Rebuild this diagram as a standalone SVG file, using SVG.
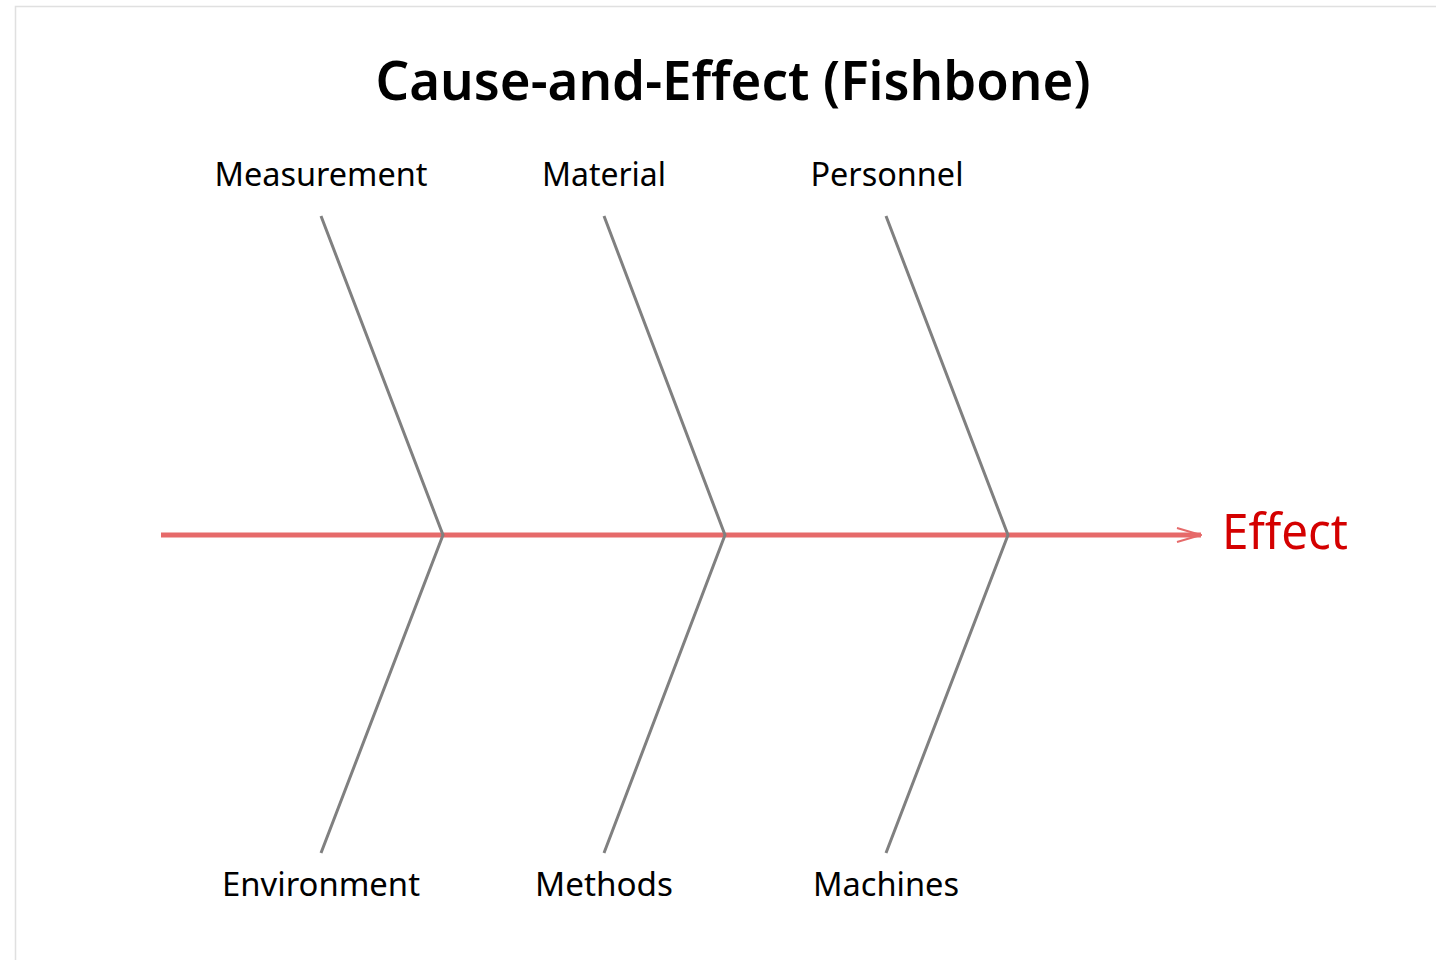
<svg xmlns="http://www.w3.org/2000/svg" width="1436" height="960" viewBox="0 0 1436 960">
  <style>
    .bone { stroke: #808080; stroke-width: 3; fill: none; }
    .spine { stroke: #e66a6a; stroke-width: 5; fill: none; }
    .label { font-family: "Noto Sans", "Open Sans", sans-serif; font-size: 33px; fill: #000; text-anchor: middle; }
    .title { font-family: "Noto Sans", "Open Sans", sans-serif; font-size: 54px; font-weight: 600; fill: #000; text-anchor: middle; }
    .effect { font-family: "Noto Sans", "Open Sans", sans-serif; font-size: 50px; fill: #d40000; }
  </style>
  <defs>
    <marker id="arrow" markerWidth="26" markerHeight="16" refX="25" refY="8" orient="auto" markerUnits="userSpaceOnUse" viewBox="0 0 26 16">
      <path d="M1,1 L25,8 L1,15" fill="none" stroke="#e66a6a" stroke-width="2"/>
    </marker>
  </defs>
  <rect x="0" y="0" width="1436" height="960" fill="#ffffff"/>
  <rect x="15.5" y="6.5" width="1440" height="970" fill="#ffffff" stroke="#e0e0e0" stroke-width="1.5"/>
  <text class="title" x="733" y="100" textLength="715" lengthAdjust="spacingAndGlyphs">Cause-and-Effect (Fishbone)</text>
  <g id="connectors">
    <line class="spine" x1="161" y1="535" x2="1201" y2="535" marker-end="url(#arrow)"/>
    <polyline class="bone" points="321,216 443,535 321,853"/>
    <polyline class="bone" points="604,216 725,535 604,853"/>
    <polyline class="bone" points="886,216 1008,535 886,853"/>
  </g>
  <g id="measurement"><text class="label" x="321" y="186" textLength="213" lengthAdjust="spacingAndGlyphs">Measurement</text></g>
  <g id="material"><text class="label" x="604" y="186" textLength="124" lengthAdjust="spacingAndGlyphs">Material</text></g>
  <g id="personnel"><text class="label" x="887" y="186" textLength="153" lengthAdjust="spacingAndGlyphs">Personnel</text></g>
  <g id="environment"><text class="label" x="321" y="896" textLength="198" lengthAdjust="spacingAndGlyphs">Environment</text></g>
  <g id="methods"><text class="label" x="604" y="896" textLength="138" lengthAdjust="spacingAndGlyphs">Methods</text></g>
  <g id="machines"><text class="label" x="886" y="896" textLength="146" lengthAdjust="spacingAndGlyphs">Machines</text></g>
  <g id="effect"><text class="effect" x="1222" y="549" textLength="126" lengthAdjust="spacingAndGlyphs">Effect</text></g>
</svg>
